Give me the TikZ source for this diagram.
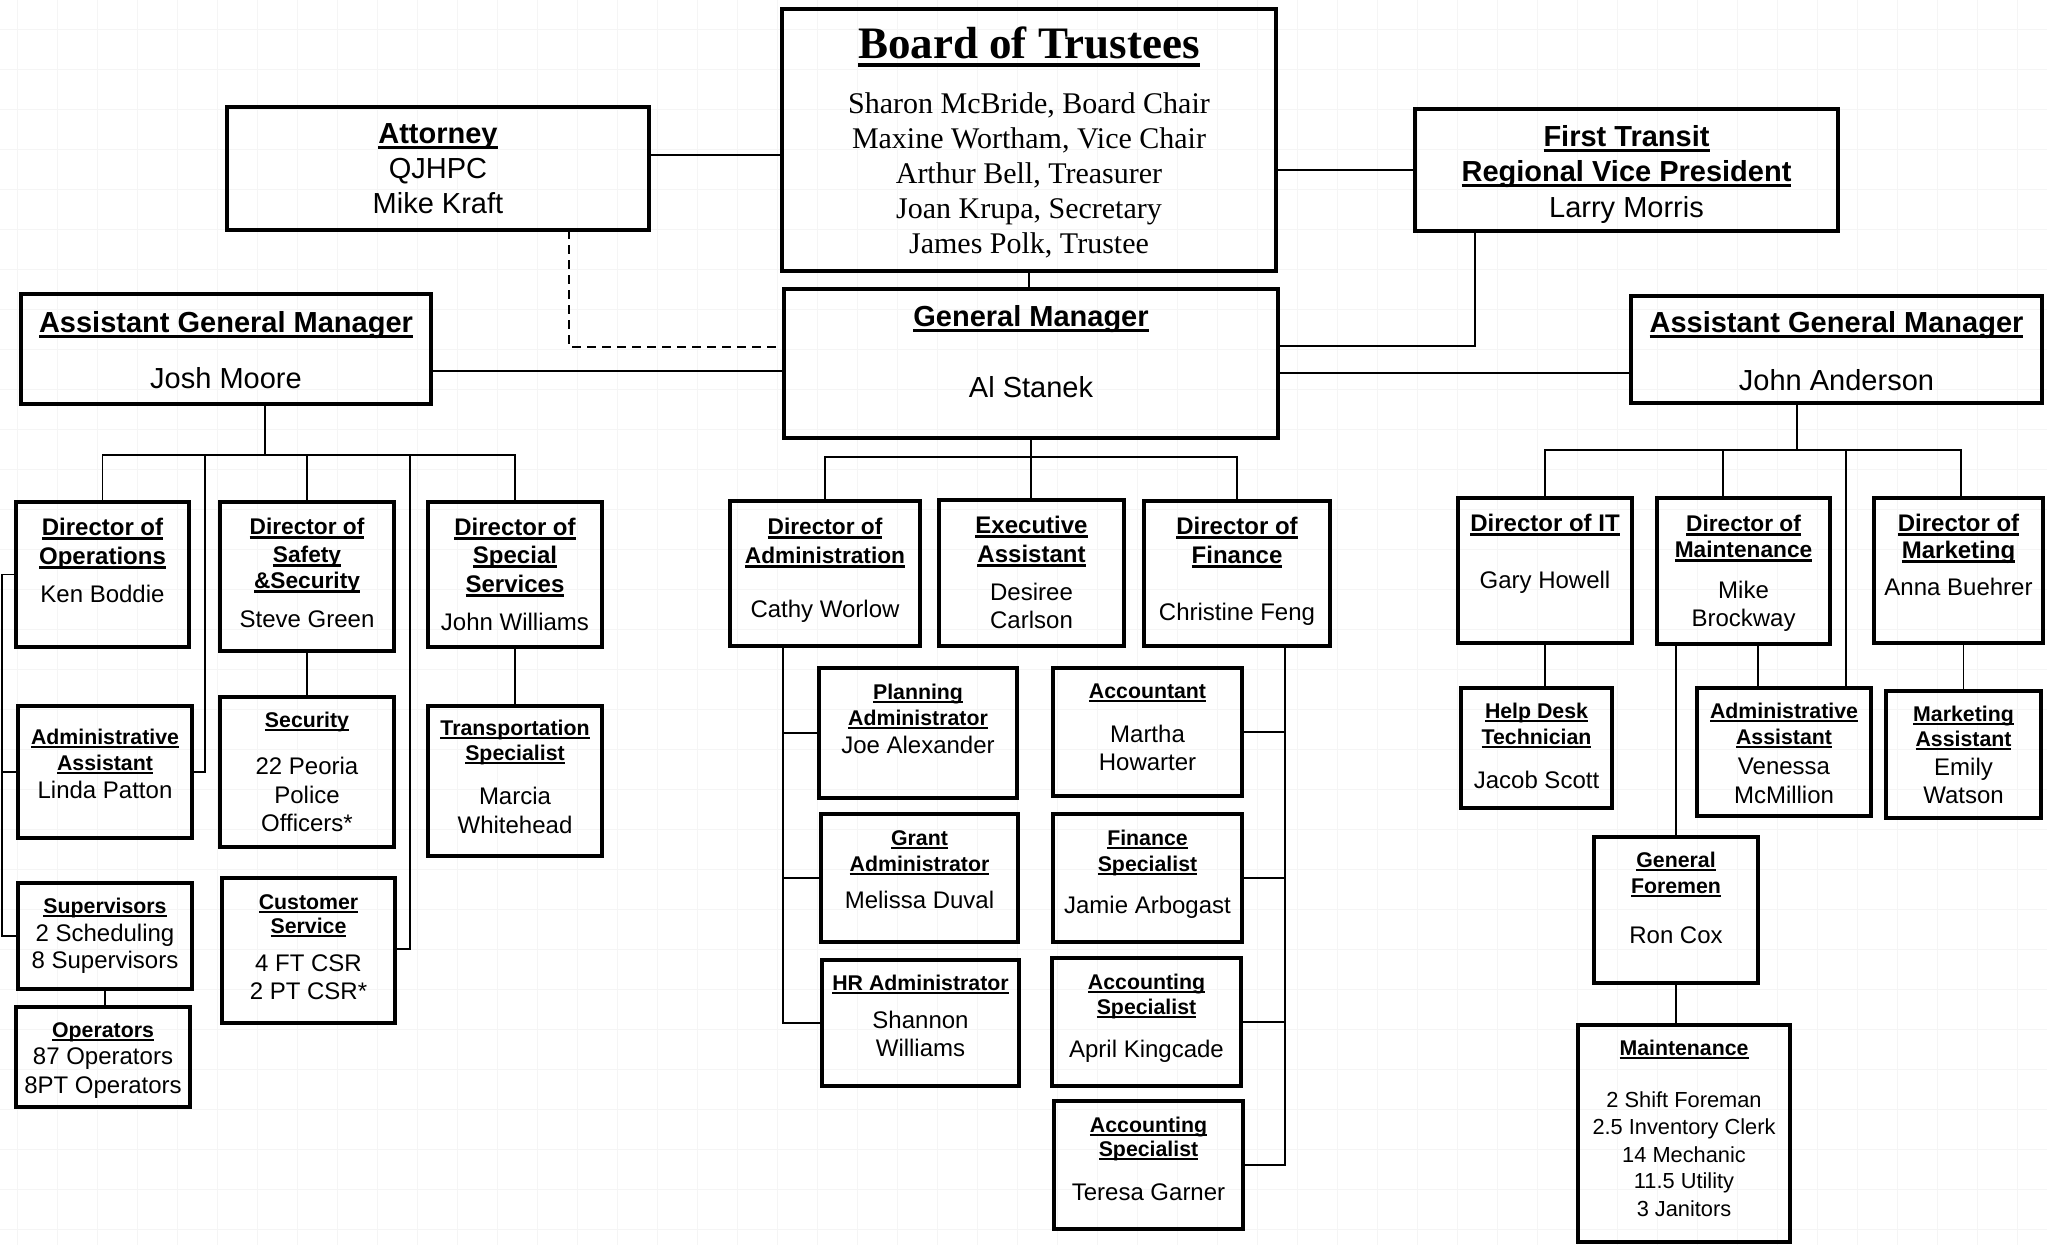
\documentclass[tikz,border=0pt]{standalone}
\usepackage{fontspec}
\setmainfont{Liberation Sans}
\newfontfamily\bserif{Liberation Serif}
\usetikzlibrary{fit}
\definecolor{gridc}{RGB}{245,245,245}
\newsavebox\ubox
\newcommand\ut[1]{\sbox\ubox{\bfseries #1}\rlap{\vrule height -0.1em depth 0.2em width \wd\ubox}\usebox\ubox}
\newcount\tcnt
\newcommand\tline[4]{\global\advance\tcnt by 1\relax\node[anchor=base,inner sep=0,#3] (tx\the\tcnt) at (#1.center |- 0,#2) {#4};}
\tikzset{
  box/.style={draw, line width=3.5pt, inner sep=0pt, outer sep=0pt},
  conn/.style={line width=1.8pt},
  dconn/.style={line width=1.8pt, dash pattern=on 9pt off 6pt},
  T29/.style={font=\fontsize{29}{34}\selectfont},
  T24/.style={font=\fontsize{24}{29}\selectfont},
  T23/.style={font=\fontsize{22.7}{27}\selectfont},
  T21/.style={font=\fontsize{21.3}{26}\selectfont},
  T22/.style={font=\fontsize{21.8}{26}\selectfont},
  S30/.style={font=\bserif\fontsize{30}{35}\selectfont},
  S45/.style={font=\bserif\bfseries\fontsize{45}{52}\selectfont},
}
\begin{document}
\begin{tikzpicture}[x=1pt,y=-1pt]
\useasboundingbox (0,0) rectangle (2047,1245);
\fill[white] (0,0) rectangle (2047,1245);
\foreach \i in {0,...,50} \draw[gridc, line width=1.3pt] (17.3+40*\i,0) -- (17.3+40*\i,1245);
\foreach \j in {0,...,30} \draw[gridc, line width=1.3pt] (0,29.3+40*\j) -- (2047,29.3+40*\j);

% ---------- boxes ----------
\node[box, fit={(782,9)(1276,271)}] (board) {};
\node[box, fit={(784,289)(1278,438)}] (gm) {};
\node[box, fit={(227,107)(649,230)}] (att) {};
\node[box, fit={(1415,109)(1838,231)}] (ft) {};
\node[box, fit={(21,294)(431,404)}] (agml) {};
\node[box, fit={(1631,296)(2042,403)}] (agmr) {};
% left
\node[box, fit={(16,502)(189,647)}] (ops) {};
\node[box, fit={(220,502)(394,651)}] (safety) {};
\node[box, fit={(428,502)(602,647)}] (special) {};
\node[box, fit={(18,706)(192,838)}] (aasl) {};
\node[box, fit={(220,697)(394,847)}] (security) {};
\node[box, fit={(428,706)(602,856)}] (transp) {};
\node[box, fit={(18,883)(192,989)}] (supv) {};
\node[box, fit={(16,1007)(190,1107)}] (oper) {};
\node[box, fit={(222,878)(395,1023)}] (cust) {};
% centre
\node[box, fit={(730,501)(920,646)}] (dadmin) {};
\node[box, fit={(939,500)(1124,646)}] (exec) {};
\node[box, fit={(1144,501)(1330,646)}] (dfin) {};
\node[box, fit={(819,668)(1017,798)}] (plan) {};
\node[box, fit={(1053,668)(1242,796)}] (acct) {};
\node[box, fit={(821,814)(1018,942)}] (grant) {};
\node[box, fit={(1053,814)(1242,942)}] (finspec) {};
\node[box, fit={(822,960)(1019,1086)}] (hr) {};
\node[box, fit={(1052,958)(1241,1086)}] (acsa) {};
\node[box, fit={(1054,1101)(1243,1229)}] (acsb) {};
% right
\node[box, fit={(1458,498)(1632,643)}] (dit) {};
\node[box, fit={(1657,498)(1830,644)}] (dmaint) {};
\node[box, fit={(1874,498)(2043,643)}] (dmkt) {};
\node[box, fit={(1461,688)(1612,808)}] (help) {};
\node[box, fit={(1697,688)(1871,816)}] (aasr) {};
\node[box, fit={(1886,691)(2041,818)}] (mkta) {};
\node[box, fit={(1594,837)(1758,983)}] (gf) {};
\node[box, fit={(1578,1025)(1790,1242)}] (maint) {};

% ---------- coordinates ----------
\coordinate (busL) at (265,455);
\coordinate (busC) at (1031,457);
\coordinate (busR) at (1797,450);
\coordinate (spL) at (2,0);
\coordinate (spA) at (783,0);
\coordinate (spF) at (1285,0);

% ---------- connectors ----------
\draw[conn] (att.east |- 0,155) -- (board.west |- 0,155);
\draw[conn] (board.east |- 0,170) -- (ft.west |- 0,170);
\draw[conn] (board.south) -- (board.south |- gm.north);
\draw[dconn] (att.south -| 569,0) |- (gm.west |- 0,347);
\draw[conn] (agml.east |- 0,371) -- (gm.west |- 0,371);
\draw[conn] (ft.south -| 1475,0) |- (gm.east |- 0,346);
\draw[conn] (gm.east |- 0,373) -- (agmr.west |- 0,373);
% left tree
\draw[conn] (agml.south -| busL) -- (busL);
\draw[conn] (ops.north) |- (special.north |- busL) -- (special.north);
\draw[conn] (safety.north) -- (safety.north |- busL);
\draw[conn] (busL -| 205,0) |- (aasl.east);
\draw[conn] (busL -| 410,0) |- (cust.east |- 0,949);
\draw[conn] (ops.west) -| (spL |- supv.west) -- (supv.west);
\draw[conn] (spL |- aasl.west) -- (aasl.west);
\draw[conn] (safety.south) -- (security.north);
\draw[conn] (special.south) -- (transp.north);
\draw[conn] (supv.south) -- (oper.north -| supv.south);
% centre tree
\draw[conn] (gm.south -| busC) -- (exec.north -| busC);
\draw[conn] (dadmin.north) |- (dfin.north |- busC) -- (dfin.north);
\draw[conn] (dadmin.south -| spA) |- (hr.west);
\draw[conn] (spA |- plan.west) -- (plan.west);
\draw[conn] (spA |- grant.west) -- (grant.west);
\draw[conn] (dfin.south -| spF) |- (acsb.east);
\draw[conn] (spF |- acct.east) -- (acct.east);
\draw[conn] (spF |- finspec.east) -- (finspec.east);
\draw[conn] (spF |- acsa.east) -- (acsa.east);
% right tree
\draw[conn] (agmr.south -| busR) -- (busR);
\draw[conn] (dit.north) |- (busR -| 1961,0) -- (dmkt.north -| 1961,0);
\draw[conn] (dmaint.north -| 1723,0) -- (busR -| 1723,0);
\draw[conn] (busR -| 1846,0) -- (aasr.north -| 1846,0);
\draw[conn] (dit.south) -- (help.north -| dit.south);
\draw[conn] (dmaint.south -| 1758,0) -- (aasr.north -| 1758,0);
\draw[conn] (gf.north) -- (gf.north |- dmaint.south);
\draw[conn] (gf.south) -- (maint.north -| gf.south);
\draw[conn] (mkta.north) -- (mkta.north |- dmkt.south);

% ---------- texts ----------
\tline{board}{58}{S45}{\ut{Board of Trustees}}
\tline{board}{113}{S30}{Sharon McBride, Board Chair}
\tline{board}{148}{S30}{Maxine Wortham, Vice Chair}
\tline{board}{183}{S30}{Arthur Bell, Treasurer}
\tline{board}{218}{S30}{Joan Krupa, Secretary}
\tline{board}{253}{S30}{James Polk, Trustee}

\tline{att}{143}{T29}{\ut{Attorney}}
\tline{att}{178}{T29}{QJHPC}
\tline{att}{213}{T29}{Mike Kraft}

\tline{ft}{146}{T29}{\ut{First Transit}}
\tline{ft}{181}{T29}{\ut{Regional Vice President}}
\tline{ft}{217}{T29}{Larry Morris}

\tline{agml}{332}{T29}{\ut{Assistant General Manager}}
\tline{agml}{388}{T29}{Josh Moore}
\tline{agmr}{332}{T29}{\ut{Assistant General Manager}}
\tline{agmr}{390}{T29}{John Anderson}
\tline{gm}{326}{T29}{\ut{General Manager}}
\tline{gm}{397}{T29}{Al Stanek}

% left
\tline{ops}{535}{T24}{\ut{Director of}}
\tline{ops}{564}{T24}{\ut{Operations}}
\tline{ops}{602}{T24}{Ken Boddie}
\tline{safety}{534}{T23}{\ut{Director of}}
\tline{safety}{562}{T23}{\ut{Safety}}
\tline{safety}{588}{T23}{\ut{\&Security}}
\tline{safety}{627}{T24}{Steve Green}
\tline{special}{535}{T24}{\ut{Director of}}
\tline{special}{563}{T24}{\ut{Special}}
\tline{special}{592}{T24}{\ut{Services}}
\tline{special}{630}{T24}{John Williams}
\tline{aasl}{744}{T21}{\ut{Administrative}}
\tline{aasl}{770}{T21}{\ut{Assistant}}
\tline{aasl}{798}{T24}{Linda Patton}
\tline{security}{727}{T21}{\ut{Security}}
\tline{security}{774}{T24}{22 Peoria}
\tline{security}{803}{T24}{Police}
\tline{security}{831}{T24}{Officers*}
\tline{transp}{735}{T21}{\ut{Transportation}}
\tline{transp}{760}{T21}{\ut{Specialist}}
\tline{transp}{804}{T24}{Marcia}
\tline{transp}{833}{T24}{Whitehead}
\tline{supv}{913}{T21}{\ut{Supervisors}}
\tline{supv}{941}{T24}{2 Scheduling}
\tline{supv}{968}{T24}{8 Supervisors}
\tline{oper}{1037}{T21}{\ut{Operators}}
\tline{oper}{1064}{T24}{87 Operators}
\tline{oper}{1093}{T24}{8PT Operators}
\tline{cust}{909}{T21}{\ut{Customer}}
\tline{cust}{933}{T21}{\ut{Service}}
\tline{cust}{971}{T24}{4 FT CSR}
\tline{cust}{999}{T24}{2 PT CSR*}

% centre
\tline{dadmin}{534}{T23}{\ut{Director of}}
\tline{dadmin}{563}{T23}{\ut{Administration}}
\tline{dadmin}{617}{T24}{Cathy Worlow}
\tline{exec}{533}{T24}{\ut{Executive}}
\tline{exec}{562}{T24}{\ut{Assistant}}
\tline{exec}{600}{T24}{Desiree}
\tline{exec}{628}{T24}{Carlson}
\tline{dfin}{534}{T24}{\ut{Director of}}
\tline{dfin}{563}{T24}{\ut{Finance}}
\tline{dfin}{620}{T24}{Christine Feng}
\tline{plan}{699}{T21}{\ut{Planning}}
\tline{plan}{725}{T21}{\ut{Administrator}}
\tline{plan}{753}{T24}{Joe Alexander}
\tline{acct}{698}{T21}{\ut{Accountant}}
\tline{acct}{742}{T24}{Martha}
\tline{acct}{770}{T24}{Howarter}
\tline{grant}{845}{T21}{\ut{Grant}}
\tline{grant}{871}{T21}{\ut{Administrator}}
\tline{grant}{908}{T24}{Melissa Duval}
\tline{finspec}{845}{T21}{\ut{Finance}}
\tline{finspec}{871}{T21}{\ut{Specialist}}
\tline{finspec}{913}{T24}{Jamie Arbogast}
\tline{hr}{990}{T21}{\ut{HR Administrator}}
\tline{hr}{1028}{T24}{Shannon}
\tline{hr}{1056}{T24}{Williams}
\tline{acsa}{989}{T21}{\ut{Accounting}}
\tline{acsa}{1014}{T21}{\ut{Specialist}}
\tline{acsa}{1057}{T24}{April Kingcade}
\tline{acsb}{1132}{T21}{\ut{Accounting}}
\tline{acsb}{1156}{T21}{\ut{Specialist}}
\tline{acsb}{1200}{T24}{Teresa Garner}

% right
\tline{dit}{531}{T24}{\ut{Director of IT}}
\tline{dit}{588}{T24}{Gary Howell}
\tline{dmaint}{531}{T23}{\ut{Director of}}
\tline{dmaint}{557}{T23}{\ut{Maintenance}}
\tline{dmaint}{598}{T24}{Mike}
\tline{dmaint}{626}{T24}{Brockway}
\tline{dmkt}{531}{T24}{\ut{Director of}}
\tline{dmkt}{558}{T24}{\ut{Marketing}}
\tline{dmkt}{595}{T24}{Anna Buehrer}
\tline{help}{718}{T21}{\ut{Help Desk}}
\tline{help}{744}{T21}{\ut{Technician}}
\tline{help}{788}{T24}{Jacob Scott}
\tline{aasr}{718}{T21}{\ut{Administrative}}
\tline{aasr}{744}{T21}{\ut{Assistant}}
\tline{aasr}{774}{T24}{Venessa}
\tline{aasr}{803}{T24}{McMillion}
\tline{mkta}{721}{T21}{\ut{Marketing}}
\tline{mkta}{746}{T21}{\ut{Assistant}}
\tline{mkta}{775}{T24}{Emily}
\tline{mkta}{803}{T24}{Watson}
\tline{gf}{867}{T21}{\ut{General}}
\tline{gf}{893}{T21}{\ut{Foremen}}
\tline{gf}{943}{T24}{Ron Cox}
\tline{maint}{1055}{T21}{\ut{Maintenance}}
\tline{maint}{1107}{T22}{2 Shift Foreman}
\tline{maint}{1134}{T22}{2.5 Inventory Clerk}
\tline{maint}{1162}{T22}{14 Mechanic}
\tline{maint}{1188}{T22}{11.5 Utility}
\tline{maint}{1216}{T22}{3 Janitors}
\end{tikzpicture}
\end{document}
